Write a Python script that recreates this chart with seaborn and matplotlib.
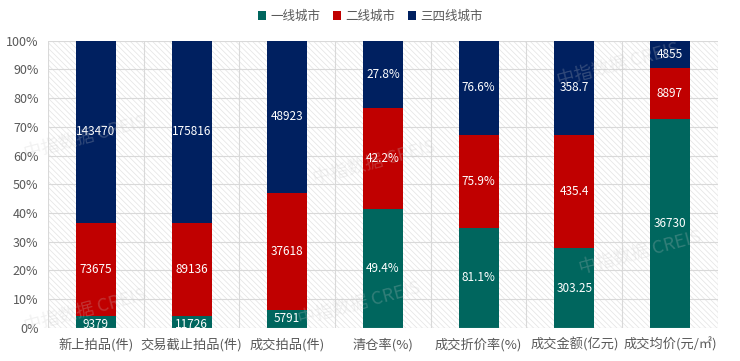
import matplotlib
matplotlib.use("Agg")
import matplotlib.pyplot as plt
import seaborn as sns
import pandas as pd
import numpy as np
from matplotlib.patches import Rectangle

# Data
categories = ["新上拍品(件)", "交易截止拍品(件)", "成交拍品(件)", "清仓率(%)",
              "成交折价率(%)", "成交金额(亿元)", "成交均价(元/㎡)"]
tier1 = [9379, 11726, 5791, 49.4, 81.1, 303.25, 36730]
tier2 = [73675, 89136, 37618, 42.2, 75.9, 435.4, 8897]
tier34 = [143470, 175816, 48923, 27.8, 76.6, 358.7, 4855]
tier1_lbl = ["9379", "11726", "5791", "49.4%", "81.1%", "303.25", "36730"]
tier2_lbl = ["73675", "89136", "37618", "42.2%", "75.9%", "435.4", "8897"]
tier34_lbl = ["143470", "175816", "48923", "27.8%", "76.6%", "358.7", "4855"]
series = ["一线城市", "二线城市", "三四线城市"]
colors = ["#00665E", "#C00000", "#002060"]

sns.set_theme(style="white")
plt.rcParams["font.family"] = ["Noto Sans CJK SC", "DejaVu Sans"]
plt.rcParams["hatch.linewidth"] = 0.5

# normalise to 100%
vals = np.array([tier1, tier2, tier34], dtype=float)
share = vals / vals.sum(axis=0) * 100
labels = [tier1_lbl, tier2_lbl, tier34_lbl]

fig = plt.figure(figsize=(7.4, 3.61), dpi=100)
ax = fig.add_axes([0.065, 0.092, 0.905, 0.795])

# hatched background
bg = Rectangle((0, 0), 1, 1, transform=ax.transAxes, facecolor="white",
               edgecolor="#e3e3e3", hatch="\\\\\\\\\\\\", linewidth=0, zorder=0)
ax.add_patch(bg)

bottom = np.zeros(len(categories))
for i, name in enumerate(series):
    df = pd.DataFrame({"cat": categories, "val": share[i]})
    sns.barplot(data=df, x="cat", y="val", color=colors[i], bottom=bottom,
                width=0.42, ax=ax, label=name, zorder=3, saturation=1,
                linewidth=0)
    for j in range(len(categories)):
        y = bottom[j] + share[i][j] / 2
        if share[i][j] < 6:
            y = bottom[j] + 1.3
        ax.text(j, y, labels[i][j], ha="center", va="center", color="white",
                fontsize=8.5, zorder=4)
    bottom = bottom + share[i]

ax.set_ylim(0, 100)
ax.set_xlim(-0.5, len(categories) - 0.5)
ax.set_yticks(np.arange(0, 101, 10))
ax.set_yticklabels([f"{v}%" for v in range(0, 101, 10)], color="#595959", fontsize=9)
ax.set_xticks(range(len(categories)))
ax.set_xticklabels(categories, color="#595959", fontsize=9.5)
ax.set_xlabel("")
ax.set_ylabel("")
ax.tick_params(axis="both", length=0, pad=7)

# grid lines
for v in range(10, 101, 10):
    ax.axhline(v, color="#d9d9d9", linewidth=0.8, zorder=1)
for k in range(len(categories) + 1):
    ax.axvline(k - 0.5, color="#d9d9d9", linewidth=0.8, zorder=1)
for s in ax.spines.values():
    s.set_visible(False)
ax.axhline(0, color="#d9d9d9", linewidth=0.8, zorder=5)

handles, lbls = ax.get_legend_handles_labels()
if ax.legend_:
    ax.legend_.remove()
fig.legend(handles, lbls, loc="center", bbox_to_anchor=(0.5, 0.955), ncol=3,
           frameon=False, fontsize=9, handlelength=0.7, handleheight=0.7,
           columnspacing=1.0, handletextpad=0.3, labelcolor="#595959")

# watermarks (kept inside the figure)
marks = [(0.03, 0.62), (0.42, 0.55), (0.78, 0.3), (0.03, 0.14), (0.4, 0.16),
         (0.75, 0.82)]
for x, y in marks:
    fig.text(x, y, "中指数据 CREIS", rotation=15, fontsize=13, color="#c8c8c8",
             alpha=0.25, ha="left", va="center", zorder=10)

fig.savefig("out.png", dpi=100)
